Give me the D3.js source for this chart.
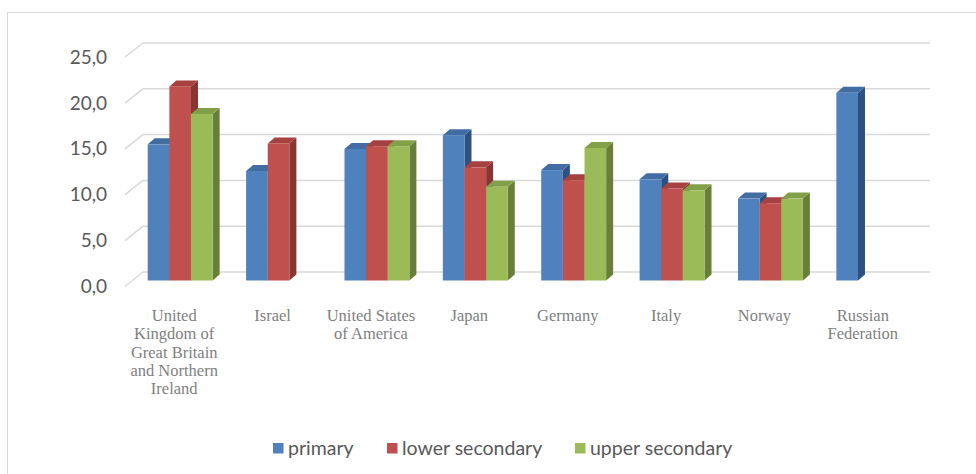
<!DOCTYPE html>
<html>
<head>
<meta charset="utf-8">
<script src="https://cdn.jsdelivr.net/npm/d3@7"></script>
<style>
  body { margin: 0; background: #fff; }
</style>
</head>
<body>
<svg id="chart" width="976" height="474"></svg>
<script>
// Data
var countries = ["United Kingdom of Great Britain and Northern Ireland", "Israel", "United States of America", "Japan", "Germany", "Italy", "Norway", "Russian Federation"]
var country_lines = [
  ["United", "Kingdom of", "Great Britain", "and Northern", "Ireland"],
  ["Israel"],
  ["United States", "of America"],
  ["Japan"],
  ["Germany"],
  ["Italy"],
  ["Norway"],
  ["Russian", "Federation"]
]
var series = ["primary", "lower secondary", "upper secondary"]
var primary = [14.8, 11.9, 14.3, 15.8, 12.0, 11.0, 8.9, 20.4]
var lower_secondary = [21.1, 14.9, 14.6, 12.3, 10.9, 10.0, 8.4, null]
var upper_secondary = [18.1, null, 14.6, 10.2, 14.4, 9.8, 8.9, null]
var y_ticks = [0, 5, 10, 15, 20, 25]

var front_colors = ["#4f81bd", "#c0504d", "#9bbb59"]
var top_colors = ["#416da3", "#a5413f", "#82a048"]
var side_colors = ["#2f5181", "#883634", "#687f3a"]

var svg = d3.select("#chart")

// outer frame
svg.append("rect")
  .attr("x", 7.5).attr("y", 12.5)
  .attr("width", 1000).attr("height", 500)
  .attr("fill", "none").attr("stroke", "#d9d9d9").attr("stroke-width", 1)

// scales
var y = d3.scaleLinear().domain([0, 25]).range([280.5, 50.5])
var x0 = d3.scaleBand().domain(countries).range([131, 918]).paddingInner(0.34).paddingOuter(0.17)
var x1 = d3.scaleBand().domain(series).range([0, x0.bandwidth()])
// category axis sits on the front edge of the floor
var x_front = d3.scaleBand().domain(countries).range([125, 912])

// 3d offsets
var back_y = d3.scaleLinear().domain([0, 25]).range([272, 43])
var front_y = d3.scaleLinear().domain([0, 25]).range([286.5, 57])
var dep_x = 7, dep_y = -6

// gridlines
var grid = svg.append("g")
y_ticks.forEach(function(t) {
  grid.append("line")
    .attr("x1", 143).attr("x2", 930)
    .attr("y1", back_y(t)).attr("y2", back_y(t))
    .attr("stroke", "#d9d9d9").attr("stroke-width", 1.5)
  grid.append("line")
    .attr("x1", 125).attr("x2", 143)
    .attr("y1", front_y(t)).attr("y2", back_y(t))
    .attr("stroke", "#d9d9d9").attr("stroke-width", 1.5)
  svg.append("text")
    .attr("x", 107).attr("y", front_y(t))
    .attr("dy", "0.35em")
    .attr("text-anchor", "end")
    .attr("font-family", "Lato, 'Open Sans', sans-serif")
    .attr("font-size", 19)
    .attr("fill", "#595959")
    .text(d3.format(".1f")(t).replace(".", ","))
})

// bars
var all = [primary, lower_secondary, upper_secondary]
var bars = svg.append("g")
countries.forEach(function(c, i) {
  series.forEach(function(s, j) {
    var v = all[j][i]
    if (v == null) return
    var bx = x0(c) + x1(s), bw = x1.bandwidth()
    var top = y(v), bottom = y(0)
    // side face
    bars.append("path")
      .attr("d", "M" + (bx + bw) + "," + bottom + "L" + (bx + bw + dep_x) + "," + (bottom + dep_y) +
        "L" + (bx + bw + dep_x) + "," + (top + dep_y) + "L" + (bx + bw) + "," + top + "Z")
      .attr("fill", side_colors[j])
    // top face
    bars.append("path")
      .attr("d", "M" + bx + "," + top + "L" + (bx + dep_x) + "," + (top + dep_y) +
        "L" + (bx + bw + dep_x) + "," + (top + dep_y) + "L" + (bx + bw) + "," + top + "Z")
      .attr("fill", top_colors[j])
    // front face
    bars.append("rect")
      .attr("x", bx).attr("y", top)
      .attr("width", bw).attr("height", bottom - top)
      .attr("fill", front_colors[j])
  })
})

// category labels
countries.forEach(function(c, i) {
  var cx = x_front(c) + x_front.bandwidth() / 2
  var t = svg.append("text")
    .attr("y", 321)
    .attr("text-anchor", "middle")
    .attr("font-family", "'Liberation Serif', 'Times New Roman', serif")
    .attr("font-size", 16.5)
    .attr("fill", "#7f7f7f")
  country_lines[i].forEach(function(line, k) {
    t.append("tspan")
      .attr("x", cx)
      .attr("dy", k == 0 ? 0 : 18.3)
      .text(line)
  })
})

// legend
var legend_x = [273, 387, 575]
var legend = svg.append("g")
series.forEach(function(s, j) {
  legend.append("rect")
    .attr("x", legend_x[j]).attr("y", 443)
    .attr("width", 10.5).attr("height", 10.5)
    .attr("fill", front_colors[j])
  legend.append("text")
    .attr("x", legend_x[j] + 15).attr("y", 448.5)
    .attr("dy", "0.35em")
    .attr("font-family", "Lato, 'Open Sans', sans-serif")
    .attr("font-size", 19.5)
    .attr("fill", "#595959")
    .text(s)
})
</script>
</body>
</html>
